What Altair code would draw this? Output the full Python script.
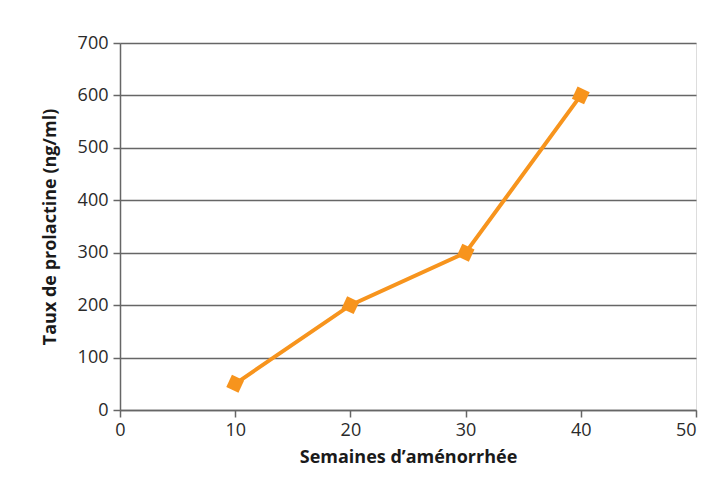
import altair as alt
import pandas as pd

weeks = [10, 20, 30, 40]
prolactin = [50, 200, 300, 600]

df = pd.DataFrame({"semaines": weeks, "prolactine": prolactin})

font = "Open Sans"
orange = "#F7941D"

x = alt.X("semaines:Q", title="Semaines d\u2019aménorrhée",
          scale=alt.Scale(domain=[0, 50], nice=False, zero=True),
          axis=alt.Axis(values=[0, 10, 20, 30, 40, 50], grid=False,
                        domainColor="#666", tickColor="#666", tickSize=7,
                        domainWidth=1.5, tickWidth=1.5, labelFlush=False,
                        labelAlign=alt.ExprRef(expr="datum.value == 50 ? 'right' : 'center'"),
                        labelFont=font, labelFontSize=18, labelColor="#2a2a2a",
                        labelPadding=4,
                        titleFont=font, titleFontSize=18, titleFontWeight="bold",
                        titleColor="#1a1a1a", titlePadding=9))
y = alt.Y("prolactine:Q", title="Taux de prolactine (ng/ml)",
          scale=alt.Scale(domain=[0, 700], nice=False),
          axis=alt.Axis(values=[0, 100, 200, 300, 400, 500, 600, 700],
                        grid=True, gridColor="#666", gridWidth=1.5,
                        domainColor="#666", tickColor="#666", tickSize=7,
                        domainWidth=1.5, tickWidth=1.5, labelFlush=False,
                        labelFont=font, labelFontSize=18, labelColor="#2a2a2a",
                        labelPadding=5,
                        titleFont=font, titleFontSize=18, titleFontWeight="bold",
                        titleColor="#1a1a1a", titlePadding=18))

line = alt.Chart(df).mark_line(color=orange, strokeWidth=4).encode(x=x, y=y)
pts = alt.Chart(df).mark_point(shape="square", filled=True, color=orange,
                               size=180, opacity=1, angle=25).encode(x=x, y=y)

chart = (line + pts).properties(
    width=576, height=367,
    autosize=alt.AutoSizeParams(type="none"),
    padding={"left": 112, "top": 35, "right": 3, "bottom": 56},
).configure_view(stroke=None).configure(background="white")

chart.save("out.html", embed_options={"renderer": "svg", "actions": False})
